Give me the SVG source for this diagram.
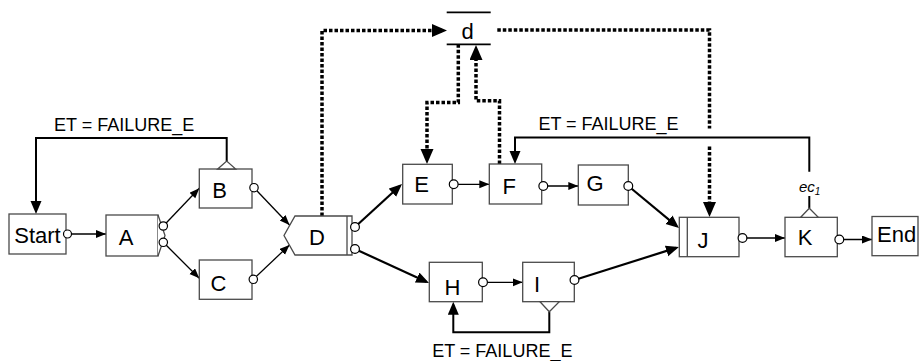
<svg xmlns="http://www.w3.org/2000/svg" width="920" height="361" viewBox="0 0 920 361">
<style>
.box{fill:#fff;stroke:#4a4a4a;stroke-width:1.3}
.port{fill:#fff;stroke:#000;stroke-width:1.2}
.lbl{font-family:"Liberation Sans",Arial,sans-serif;font-size:22px;fill:#000;text-anchor:middle}
.et{font-family:"Liberation Sans",Arial,sans-serif;font-size:18px;fill:#000;text-anchor:middle}
.thin{fill:none;stroke:#000;stroke-width:1.3;marker-end:url(#ah)}
.bold{fill:none;stroke:#000;stroke-width:2.2;marker-end:url(#ahb)}
.exc{fill:none;stroke:#000;stroke-width:2;marker-end:url(#ahb)}
.excn{fill:none;stroke:#000;stroke-width:2}
.dot{fill:none;stroke:#000;stroke-width:3.5;stroke-dasharray:3.5 2}
.dota{fill:none;stroke:#000;stroke-width:3.5;stroke-dasharray:3.5 2;marker-end:url(#ahd)}
</style>
<defs>
<marker id="ah" markerUnits="userSpaceOnUse" markerWidth="11" markerHeight="9" refX="10" refY="4" orient="auto"><path d="M0,0 L10,4 L0,8 z" fill="#000"/></marker>
<marker id="ahb" markerUnits="userSpaceOnUse" markerWidth="14" markerHeight="12" refX="10" refY="5.5" orient="auto"><path d="M0,0 L13,5.5 L0,11 z" fill="#000"/></marker>
<marker id="ahd" markerUnits="userSpaceOnUse" markerWidth="16" markerHeight="14" refX="10" refY="6.5" orient="auto"><path d="M0,0 L15,6.5 L0,13 z" fill="#000"/></marker>
</defs>

<g id="connectors">
<line class="thin" x1="67.5" y1="234" x2="106" y2="234"/>
<line class="thin" x1="163.3" y1="226" x2="199.3" y2="188.3"/>
<line class="thin" x1="163.3" y1="242.3" x2="199.3" y2="278.3"/>
<line class="thin" x1="254" y1="187.7" x2="289.5" y2="225"/>
<line class="thin" x1="253.3" y1="279.3" x2="289.5" y2="245"/>
<line class="thin" x1="453.7" y1="184.3" x2="489.3" y2="184.3"/>
<line class="thin" x1="543.3" y1="186" x2="578.3" y2="186"/>
<line class="thin" x1="483" y1="282.3" x2="522.7" y2="282.3"/>
<line class="thin" x1="742.5" y1="238" x2="785" y2="238"/>
<line class="thin" x1="839.3" y1="239.5" x2="872" y2="239.5"/>
<line class="bold" x1="355" y1="227" x2="399.8" y2="186"/>
<line class="bold" x1="355" y1="249" x2="426.3" y2="281.8"/>
<line class="bold" x1="628.3" y1="186" x2="676.7" y2="226.1"/>
<line class="bold" x1="574.5" y1="280" x2="676.1" y2="247.9"/>
<polyline class="exc" points="226.7,161 226.7,138 36,138 36,211"/>
<polyline class="exc" points="549.3,311.7 549.3,332.3 453.3,332.3 453.3,304.7"/>
<line class="excn" x1="809.3" y1="208.3" x2="809.3" y2="196"/>
<polyline class="exc" points="809.3,171.7 809.3,137.5 515,137.5 515,161"/>
<polyline class="dota" points="322,216 322,30.5 442,30.5"/>
<polyline class="dota" points="458.3,44.3 458.3,102.5 427,102.5 427,159"/>
<polyline class="dota" points="499.5,164 499.5,100.7 476,100.7 476,50"/>
<polyline class="dot" points="497.3,30 709.5,30 709.5,128.5"/>
<line class="dota" x1="709.5" y1="146.5" x2="709.5" y2="212"/>
</g>

<g id="label-et1"><text class="et" x="124.2" y="130.7">ET = FAILURE_E</text></g>
<g id="label-et2"><text class="et" x="608.5" y="130">ET = FAILURE_E</text></g>
<g id="label-et3"><text class="et" x="502.3" y="357">ET = FAILURE_E</text></g>
<g id="label-ec1"><text font-family="Liberation Sans, Arial, sans-serif" font-style="italic" font-size="15" x="799" y="191.5">ec<tspan font-size="10" dy="3">1</tspan></text></g>

<g id="node-start">
<rect class="box" x="9" y="214" width="57" height="40"/>
<text class="lbl" x="37.5" y="242.5">Start</text>
<circle class="port" cx="67.5" cy="234" r="4"/>
</g>

<g id="node-A">
<rect class="box" x="106" y="215" width="52" height="41"/>
<polyline class="box" fill="none" points="158,215 165,235.5 158,256"/>
<text class="lbl" x="126" y="245">A</text>
<circle class="port" cx="163.3" cy="226" r="4.2"/>
<circle class="port" cx="163.3" cy="242.3" r="4.2"/>
</g>

<g id="node-B">
<rect class="box" x="199.3" y="169" width="52.7" height="39"/>
<polygon class="box" points="217.7,169 226.7,161 235.7,169"/>
<text class="lbl" x="219.7" y="198">B</text>
<circle class="port" cx="254" cy="187.7" r="4.2"/>
</g>

<g id="node-C">
<rect class="box" x="199.3" y="260" width="52.7" height="39.3"/>
<text class="lbl" x="218.5" y="291">C</text>
<circle class="port" cx="253.3" cy="279.3" r="4.2"/>
</g>

<g id="node-D">
<polygon class="box" points="295,216 352,216 352,255 295,255 284,235.5"/>
<line class="box" x1="347" y1="216" x2="347" y2="255"/>
<text class="lbl" x="317" y="244.5">D</text>
<circle class="port" cx="355" cy="227" r="4.4"/>
<circle class="port" cx="355" cy="249" r="4.4"/>
</g>

<g id="node-d">
<line stroke="#000" stroke-width="1.8" x1="446.7" y1="12.3" x2="490.7" y2="12.3"/>
<line stroke="#000" stroke-width="1.8" x1="446.7" y1="44.3" x2="490.7" y2="44.3"/>
<text class="lbl" x="467.5" y="39">d</text>
</g>

<g id="node-E">
<rect class="box" x="402.7" y="164.3" width="49.6" height="39.7"/>
<text class="lbl" x="421.7" y="192.3">E</text>
<circle class="port" cx="453.7" cy="184.3" r="4.4"/>
</g>

<g id="node-F">
<rect class="box" x="489.3" y="164" width="52.4" height="40"/>
<text class="lbl" x="509.3" y="194">F</text>
<circle class="port" cx="543.3" cy="186" r="4.4"/>
</g>

<g id="node-G">
<rect class="box" x="578.3" y="165" width="50" height="40"/>
<text class="lbl" x="595" y="191">G</text>
<circle class="port" cx="628.3" cy="186" r="4.4"/>
</g>

<g id="node-H">
<rect class="box" x="429.3" y="262.3" width="53" height="39.4"/>
<text class="lbl" x="452.5" y="295">H</text>
<circle class="port" cx="483" cy="282.3" r="4.4"/>
</g>

<g id="node-I">
<rect class="box" x="522.7" y="262.3" width="51.6" height="39.4"/>
<polygon class="box" points="540,301.7 549.3,311.7 559.3,301.7"/>
<text class="lbl" x="537" y="291.7">I</text>
<circle class="port" cx="574.5" cy="280" r="4.4"/>
</g>

<g id="node-J">
<rect class="box" x="679.3" y="217.3" width="59.7" height="39.4"/>
<line class="box" x1="687.3" y1="217.3" x2="687.3" y2="256.7"/>
<text class="lbl" x="703" y="248.3">J</text>
<circle class="port" cx="742.5" cy="238" r="4.4"/>
</g>

<g id="node-K">
<rect class="box" x="785" y="217.3" width="52.3" height="39.4"/>
<polygon class="box" points="800.7,217.3 809.3,208.3 818.3,217.3"/>
<text class="lbl" x="805" y="245">K</text>
<circle class="port" cx="839.3" cy="239.5" r="4.4"/>
</g>

<g id="node-end">
<rect class="box" x="872" y="216.5" width="46" height="39.2"/>
<text class="lbl" x="896.7" y="241.7">End</text>
</g>
</svg>
